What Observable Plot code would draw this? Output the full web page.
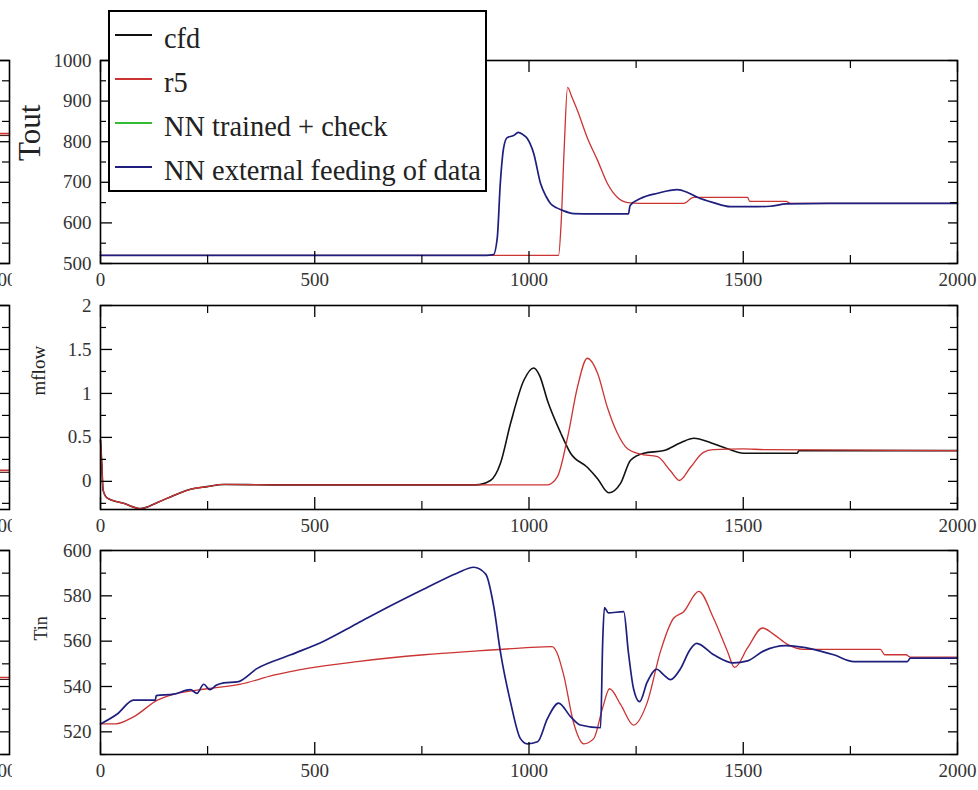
<!DOCTYPE html>
<html><head><meta charset="utf-8">
<script src="https://cdn.jsdelivr.net/npm/d3@7"></script>
<script src="https://cdn.jsdelivr.net/npm/@observablehq/plot@0.6"></script>
<style>
html,body{margin:0;padding:0;background:#fff;}
#root{position:relative;width:978px;height:790px;overflow:hidden;font-family:"Liberation Serif",serif;background:#fff;}
.panel{position:absolute;left:0;width:978px;}
.panel svg{overflow:visible;max-width:none;}
.ghost{position:absolute;left:0;width:12px;overflow:hidden;}
.ghost > div{position:absolute;top:0;width:280px;}
.ghost svg{overflow:visible;max-width:none;}
#legend{position:absolute;left:108px;top:10px;width:375px;height:178px;border:2px solid #000;background:#fff;z-index:5;}
#legend .row{position:absolute;left:0;height:44px;display:flex;align-items:center;}
#legend .sw{width:37px;height:2px;margin-left:5px;}
#legend .lb{margin-left:12px;font-family:"Liberation Serif",serif;font-size:28.4px;line-height:28px;color:#222;position:relative;top:4px;white-space:nowrap;}
</style></head><body><div id="root"></div>
<script>
// ---------- legend ----------
const seriesNames = ["cfd", "r5", "NN trained + check", "NN external feeding of data"];
const seriesColors = ["#111111", "#cc3333", "#33bb33", "#1e1e7e"];

// ---------- axes ----------
const xMajor = [0, 500, 1000, 1500, 2000];
const xMinor = [250, 750, 1250, 1750];
const xDomain = [0, 2000];

const toutDomain = [500, 1000];
const toutMajor = [500, 600, 700, 800, 900, 1000];
const toutMinor = [550, 650, 750, 850, 950];

const mflowDomain = [-0.32, 2];
const mflowMajor = [0, 0.5, 1, 1.5, 2];
const mflowMinor = [-0.25, 0.25, 0.75, 1.25, 1.75];

const tinDomain = [510, 600];
const tinMajor = [520, 540, 560, 580, 600];
const tinMinor = [510, 530, 550, 570, 590];

// ---------- Tout ----------
const toutNNx = [0, 900, 917, 926, 933, 941, 949, 964, 975, 985, 996, 1011, 1027, 1040, 1050, 1065, 1078, 1104, 1150, 1232, 1236, 1260, 1300, 1346, 1370, 1393, 1430, 1470, 1520, 1563, 1600, 1700, 1800, 2000];
const toutNNy = [520, 520, 522, 564, 697, 786, 810, 815, 823, 818, 808, 771, 697, 665, 648, 637, 631, 623, 622, 622, 643, 660, 673, 682, 675, 663, 650, 640, 640, 641, 647, 648, 648, 648];
const toutR5x = [0, 1069, 1075, 1082, 1090, 1100, 1113, 1136, 1160, 1183, 1206, 1230, 1260, 1361, 1384, 1510, 1515, 1600, 1610, 2000];
const toutR5y = [520, 520, 600, 780, 934, 910, 877, 810, 754, 697, 663, 650, 648, 648, 663, 663, 653, 653, 648, 648];

// ---------- mflow ----------
const mflowCfdX = [0, 3, 6, 16, 54, 93, 133, 171, 210, 249, 288, 400, 875, 910, 933, 957, 988, 1011, 1025, 1043, 1074, 1097, 1136, 1160, 1186, 1214, 1237, 1268, 1315, 1354, 1385, 1424, 1463, 1501, 1626, 1630, 2000];
const mflowCfdY = [0.47, 0.2, -0.1, -0.19, -0.25, -0.31, -0.24, -0.16, -0.09, -0.06, -0.035, -0.04, -0.04, 0.01, 0.2, 0.66, 1.15, 1.29, 1.2, 0.92, 0.55, 0.32, 0.16, 0.03, -0.13, -0.02, 0.24, 0.32, 0.35, 0.44, 0.49, 0.44, 0.37, 0.32, 0.32, 0.35, 0.35];
const mflowR5x = [0, 3, 6, 16, 54, 93, 133, 171, 210, 249, 288, 400, 1043, 1066, 1090, 1113, 1136, 1160, 1183, 1206, 1230, 1260, 1300, 1330, 1351, 1377, 1407, 1430, 1500, 1550, 2000];
const mflowR5y = [0.47, 0.2, -0.1, -0.19, -0.25, -0.31, -0.24, -0.16, -0.09, -0.06, -0.035, -0.04, -0.04, 0.05, 0.5, 1.07, 1.4, 1.23, 0.84, 0.55, 0.37, 0.31, 0.28, 0.12, 0.01, 0.16, 0.33, 0.36, 0.37, 0.36, 0.35];

// ---------- Tin ----------
const tinNNx = [0, 40, 77, 128, 130, 171, 210, 225, 241, 255, 270, 288, 319, 366, 444, 521, 599, 677, 755, 832, 871, 899, 918, 933, 957, 980, 996, 1020, 1043, 1069, 1097, 1120, 1167, 1172, 1176, 1185, 1221, 1232, 1244, 1258, 1276, 1298, 1315, 1330, 1354, 1375, 1391, 1431, 1477, 1510, 1547, 1599, 1664, 1711, 1758, 1883, 1890, 2000];
const tinNNy = [523.5, 528, 534, 534, 536, 536.6, 538.6, 537, 541, 538.6, 540.5, 541.6, 542, 548, 554, 560, 567.8, 575.6, 583, 590, 592.6, 589.6, 575, 555.6, 533, 517, 514.7, 515.6, 525.8, 532.7, 526.7, 523, 521.8, 560, 574.8, 572.5, 573, 555, 539, 533.3, 542, 547.6, 545, 543, 548, 556, 559, 554, 550.4, 551.3, 555.6, 558, 556.4, 554, 551, 551, 552.5, 552.5];
const tinR5x = [0, 35, 77, 133, 171, 249, 327, 404, 483, 599, 755, 871, 987, 1054, 1065, 1081, 1104, 1128, 1151, 1171, 1188, 1214, 1244, 1276, 1307, 1337, 1361, 1396, 1431, 1463, 1480, 1510, 1545, 1571, 1603, 1641, 1820, 1830, 1880, 1890, 2000];
const tinR5y = [523.5, 523.5, 526.6, 534, 536.6, 539, 541, 545, 548, 551, 554, 555.6, 557, 557.6, 555, 545, 524, 514.7, 517, 530, 539, 532, 523, 533, 555.6, 570, 573, 582, 570, 555.6, 548.4, 557, 565.8, 563, 558.6, 556.4, 556.4, 554, 554, 553, 553];

// ---------- neighbouring (cropped) figure at the left edge ----------
const ghostX = [1800, 2000];
const ghostTout = [820, 820];
const ghostMflow = [0.125, 0.125];
const ghostTin = [544, 544];

const zipXY = (xs, ys) => xs.map((x, i) => ({x, y: ys[i]}));

const W = 978, ML = 100, MR = 21, MT = 10, MB = 35;
const FW = W - ML - MR;

function tickMarks(fh, fw, yMajor, yMinor) {
  const maj = 12, min = 6;
  return [
    Plot.tickX(xMajor, {x: d => d, insetTop: fh - maj, stroke: "#000", strokeWidth: 1.3}),
    Plot.tickX(xMajor, {x: d => d, insetBottom: fh - maj, stroke: "#000", strokeWidth: 1.3}),
    Plot.tickX(xMinor, {x: d => d, insetTop: fh - 8, stroke: "#000", strokeWidth: 1.2}),
    Plot.tickX(xMinor, {x: d => d, insetBottom: fh - 8, stroke: "#000", strokeWidth: 1.2}),
    Plot.tickY(yMajor, {y: d => d, insetRight: fw - maj, stroke: "#000", strokeWidth: 1.3}),
    Plot.tickY(yMajor, {y: d => d, insetLeft: fw - 9, stroke: "#000", strokeWidth: 1.3}),
    Plot.tickY(yMinor, {y: d => d, insetRight: fw - min, stroke: "#000", strokeWidth: 1.2}),
    Plot.tickY(yMinor, {y: d => d, insetLeft: fw - 7, stroke: "#000", strokeWidth: 1.2})
  ];
}

function makePanel(cfg) {
  const fh = cfg.fh;
  const H = MT + fh + MB;
  const lines = cfg.lines.map(l => Plot.line(zipXY(l.xs, l.ys), {x: "x", y: "y", stroke: l.color, strokeWidth: l.width, curve: "monotone-x"}));
  const chart = Plot.plot({
    width: W, height: H,
    marginLeft: ML, marginRight: MR, marginTop: MT, marginBottom: MB,
    style: {fontFamily: "Liberation Serif, serif", fontSize: "19px", color: "#333", background: "transparent", overflow: "visible"},
    x: {domain: xDomain},
    y: {domain: cfg.yDomain},
    marks: [
      ...lines,
      ...tickMarks(fh, FW, cfg.yMajor, cfg.yMinor),
      Plot.frame({stroke: "#000", strokeWidth: 1.6}),
      Plot.axisX({ticks: xMajor, tickSize: 0, tickPadding: 9, fontSize: 19, label: null, tickFormat: d => String(d)}),
      Plot.axisY({ticks: cfg.yMajor, tickSize: 0, tickPadding: 9, fontSize: 19, label: null, tickFormat: d => String(d)}),
      Plot.text([cfg.label], {text: d => d, frameAnchor: "left", rotate: -90, dx: cfg.labelDx, dy: cfg.labelDy, fontSize: cfg.labelSize, fill: "#222"})
    ]
  });
  const div = document.createElement("div");
  div.className = "panel";
  div.style.top = (cfg.top - MT) + "px";
  div.appendChild(chart);
  return div;
}

function makeGhost(cfg) {
  const fh = cfg.fh;
  const H = MT + fh + MB;
  const gw = 280, gml = 10, gmr = 20;
  const fw = gw - gml - gmr;
  const chart = Plot.plot({
    width: gw, height: H,
    marginLeft: gml, marginRight: gmr, marginTop: MT, marginBottom: MB,
    style: {fontFamily: "Liberation Serif, serif", fontSize: "19px", color: "#333", background: "transparent", overflow: "visible"},
    x: {domain: xDomain, axis: null},
    y: {domain: cfg.yDomain, axis: null},
    marks: [
      Plot.line(zipXY(ghostX, cfg.ghost), {x: "x", y: "y", stroke: "#cc3333", strokeWidth: 1.6}),
      Plot.line(zipXY(ghostX, cfg.ghost), {x: "x", y: "y", stroke: "#3a1010", strokeWidth: 1, dy: 2}),
      Plot.tickY(cfg.yMajor, {y: d => d, insetLeft: fw - 9, stroke: "#000", strokeWidth: 1.3}),
      Plot.tickY(cfg.yMinor, {y: d => d, insetLeft: fw - 7, stroke: "#000", strokeWidth: 1.2}),
      Plot.frame({stroke: "#000", strokeWidth: 1.6}),
      Plot.axisX({ticks: [2000], tickSize: 0, tickPadding: 9, fontSize: 19, label: null, tickFormat: d => String(d), dx: -12})
    ]
  });
  const outer = document.createElement("div");
  outer.className = "ghost";
  outer.style.top = (cfg.top - MT) + "px";
  outer.style.height = H + "px";
  const inner = document.createElement("div");
  inner.style.left = (9 - (gw - gmr)) + "px";
  inner.appendChild(chart);
  outer.appendChild(inner);
  return outer;
}

const root = document.getElementById("root");

const panels = [
  {top: 60, fh: 203, yDomain: toutDomain, yMajor: toutMajor, yMinor: toutMinor, label: "Tout", labelSize: 31, labelDx: -70, labelDy: -1, ghost: ghostTout,
   lines: [{xs: toutR5x, ys: toutR5y, color: seriesColors[1], width: 1.3}, {xs: toutNNx, ys: toutNNy, color: seriesColors[3], width: 1.7}]},
  {top: 305, fh: 204, yDomain: mflowDomain, yMajor: mflowMajor, yMinor: mflowMinor, label: "mflow", labelSize: 19, labelDx: -62, labelDy: -12, ghost: ghostMflow,
   lines: [{xs: mflowCfdX, ys: mflowCfdY, color: seriesColors[0], width: 1.6}, {xs: mflowR5x, ys: mflowR5y, color: seriesColors[1], width: 1.3}]},
  {top: 550, fh: 204, yDomain: tinDomain, yMajor: tinMajor, yMinor: tinMinor, label: "Tin", labelSize: 18, labelDx: -59, labelDy: -12, ghost: ghostTin,
   lines: [{xs: tinR5x, ys: tinR5y, color: seriesColors[1], width: 1.3}, {xs: tinNNx, ys: tinNNy, color: seriesColors[3], width: 1.7}]}
];

for (const p of panels) {
  root.appendChild(makePanel(p));
  root.appendChild(makeGhost(p));
}

// legend box (overlapping the top panel as in the original)
const legend = document.createElement("div");
legend.id = "legend";
const rowTops = [0, 44, 88, 132];
seriesNames.forEach((name, i) => {
  const row = document.createElement("div");
  row.className = "row";
  row.style.top = (rowTops[i] + 1) + "px";
  const sw = document.createElement("div");
  sw.className = "sw";
  sw.style.backgroundColor = seriesColors[i];
  const lb = document.createElement("div");
  lb.className = "lb";
  lb.textContent = name;
  row.appendChild(sw);
  row.appendChild(lb);
  legend.appendChild(row);
});
root.appendChild(legend);
</script></body></html>
